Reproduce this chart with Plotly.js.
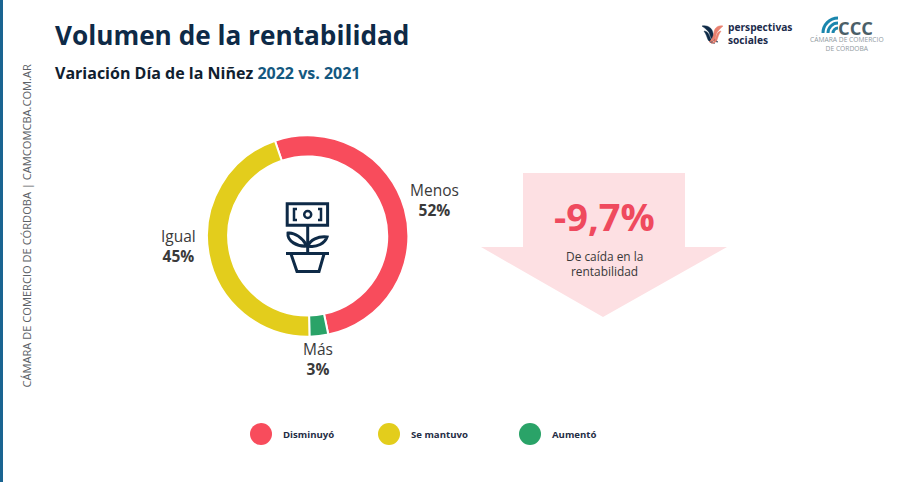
<!DOCTYPE html>
<html><head><meta charset="utf-8">
<script src="https://cdn.plot.ly/plotly-3.0.1.min.js"></script>
<style>html,body{margin:0;padding:0;background:#fff}#c{width:907px;height:482px}</style></head>
<body><div id="c"></div>
<script>
const sliceLabels = ["Menos", "Más", "Igual"];
const sliceValues = [52, 3, 45];
const sliceColors = ["#f84c5c", "#2aa368", "#e3cd1c"];
const legendLabels = ["Disminuyó", "Se mantuvo", "Aumentó"];
const legendColors = ["#f84c5c", "#e3cd1c", "#2aa368"];
const W = 907, H = 482;
const FONT = "'Open Sans', Lato, sans-serif";
const NAVY = "#0e2a47", TEAL = "#14587f";
const fx = x => x / W, fy = y => 1 - y / H;
function p(d) {
  let i = 0;
  return d.replace(/-?\d+(\.\d+)?/g, n => { const v = +n; return (i++ % 2 === 0 ? fx(v) : fy(v)).toFixed(5); });
}
const shapes = [], ann = [];
const line = (d, color, width, fill) => shapes.push({type:"path", xref:"paper", yref:"paper", path:p(d),
  line:{color:color, width:width||0}, fillcolor:fill||"rgba(0,0,0,0)", layer:"above"});
const box = (x0,y0,x1,y1,o) => shapes.push(Object.assign({xref:"paper",yref:"paper",x0:fx(x0),x1:fx(x1),y0:fy(y0),y1:fy(y1),layer:"above"},o));
const txt = (x,y,text,size,color,o) => ann.push(Object.assign({xref:"paper",yref:"paper",x:fx(x),y:fy(y),text:text,showarrow:false,
  xanchor:"center",yanchor:"middle",font:{family:FONT,size:size,color:color}},o||{}));

// left band
box(0,0,3,482,{type:"rect",fillcolor:"#1a6491",line:{width:0}});
// headings
txt(53,35,"<b>Volumen de la rentabilidad</b>",26.2,NAVY,{xanchor:"left"});
txt(53,73,"<b>Variación Día de la Niñez <span style='color:"+TEAL+"'>2022 vs. 2021</span></b>",16,"#10202f",{xanchor:"left"});
txt(26,226.5,"CÁMARA DE COMERCIO DE CÓRDOBA | CAMCOMCBA.COM.AR",11.1,"#5c6166",{textangle:-90});

// slice labels
const labelPos = [[434.5,199.5],[318,359],[178,246]];
sliceLabels.forEach((l,i)=>{
  txt(labelPos[i][0],labelPos[i][1],l+"<br><b>"+sliceValues[i]+"%</b>",15.5,"#3a3a3a");
});

// arrow
line("M523 173 L685 173 L685 247 L727 247 L603 317 L481 247 L523 247 Z","#fde0e3",0,"#fde0e3");
txt(604,216,"<b>-9,7%</b>",38,"#ef4a5e");
txt(604,256,"De caída en la",11.9,"#3a3a3a");
txt(604,271,"rentabilidad",11.9,"#3a3a3a");

// centre icon
box(287.2,203.8,327.6,225.2,{type:"rect",line:{color:NAVY,width:3},fillcolor:"#fff"});
line("M297 209 L294 209 L294 220 L297 220",NAVY,2.5);
line("M318 209 L321 209 L321 220 L318 220",NAVY,2.5);
box(304.2,211,311.2,218,{type:"circle",line:{color:NAVY,width:2.5},fillcolor:"#fff"});
line("M307.7 226 L307.7 253",NAVY,3);
line("M307 246 C303 238 294 232 288 233 C287 241 297 247 307 246 Z",NAVY,3,"#fff");
line("M308 246 C310 240 318 236 327 237 C325 243 317 248 308 246 Z",NAVY,3,"#fff");
line("M286 253.5 L329 253.5",NAVY,3);
line("M291 254 L297 271.5 L319 271.5 L324 254",NAVY,3);

// legend
const legX = [261,389,530];
legendLabels.forEach((l,i)=>{
  box(legX[i]-11,423,legX[i]+11,445,{type:"circle",fillcolor:legendColors[i],line:{width:0}});
  txt(legX[i]+20,434.5,"<b>"+l+"</b>",9.6,"#1f2d45",{xanchor:"left"});
});

// perspectivas sociales logo
line("M702 26 C708 25 712 28 713 33 C714 38 716 41 718 42 C714 42 711 39 710 35 C709 31 706 29 702 26 Z",NAVY,0.5,NAVY);
line("M704 31 C707 31 709 34 710 37 C711 40 713 43 715 43 C711 44 708 41 707 37 C706 34 705 33 704 31 Z",NAVY,0.5,NAVY);
line("M723 26 C718 25 714 28 714 33 C713 37 712 40 709 42 C713 42 716 39 716 35 C717 31 720 29 723 26 Z","#e9806f",0.5,"#e9806f");
line("M721 31 C718 31 717 34 716 37 C715 40 713 43 711 43 C715 44 717 41 718 37 C719 34 720 33 721 31 Z","#e9806f",0.5,"#e9806f");
txt(726,33.5,"<b>perspectivas<br>sociales</b>",10.2,"#1b2b4b",{xanchor:"left",align:"left"});

// CCC logo
[5,10,15].forEach((r,i)=>{
  const k = r*0.55, cx = 838, cy = 33;
  line(`M${cx-r} ${cy} C${cx-r} ${cy-k} ${cx-k} ${cy-r} ${cx} ${cy-r}`,"#1a86ad",3);
});
txt(836,27,"<b>CCC</b>",18.3,"#4b5f68",{xanchor:"left"});
txt(847,43.5,"CÁMARA DE COMERCIO<br>DE CÓRDOBA",6.7,"#8f9a9f");

const data = [{
  type:"pie", labels:sliceLabels, values:sliceValues, sort:false, direction:"clockwise", rotation:-19,
  hole:0.79, textinfo:"none", hoverinfo:"label+percent", showlegend:false,
  marker:{colors:sliceColors, line:{color:"#fff", width:2}},
  domain:{x:[fx(207),fx(408.4)], y:[fy(336.7),fy(135.3)]}
}];
Plotly.newPlot("c", data, {width:W,height:H,margin:{l:0,r:0,t:0,b:0},paper_bgcolor:"#fff",plot_bgcolor:"#fff",
  showlegend:false,shapes:shapes,annotations:ann},{displayModeBar:false,staticPlot:true});
</script></body></html>
